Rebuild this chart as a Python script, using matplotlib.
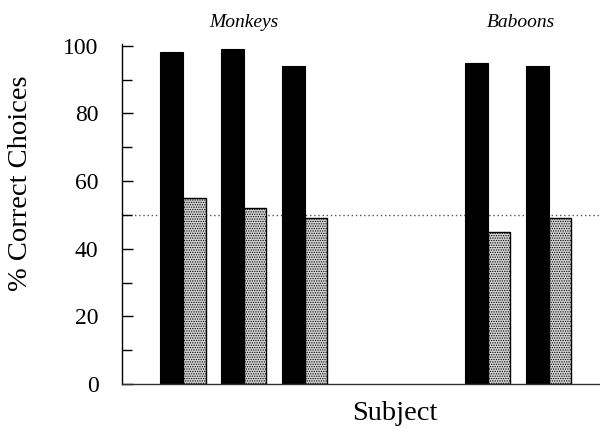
import matplotlib
matplotlib.use("Agg")
import matplotlib.pyplot as plt
import numpy as np

plt.rcParams['font.family'] = 'serif'
plt.rcParams['font.serif'] = ['Liberation Serif', 'Times New Roman', 'DejaVu Serif']
plt.rcParams['hatch.linewidth'] = 0.6

subjects = ["M1", "M2", "M3", "B1", "B2"]
positions = [0, 1, 2, 5, 6]
trained = [98, 99, 94, 95, 94]
transfer = [55, 52, 49, 45, 49]
groups = ["Monkeys", "Baboons"]
group_pos = [1.0, 5.55]
chance = 50
yticks = [0, 20, 40, 60, 80, 100]

fig = plt.figure(figsize=(6.0, 4.28), dpi=100)
ax = fig.add_axes([122/600, 44/428, 1 - 122/600, (384-44)/428])

x = np.array(positions, dtype=float)
w = 0.37
ax.bar(x - w/2, trained, width=w, color='black', edgecolor='black', linewidth=0.8)
ax.bar(x + w/2, transfer, width=w, color='#d4d4d4', edgecolor='black',
       linewidth=1.0, hatch='.......')

ax.axhline(chance, color='#555555', linestyle=(0, (1, 2)), linewidth=1.0, zorder=0.5)

ax.set_xlim(-1, 6.84)
ax.set_ylim(0, 100.5)
ax.set_yticks(yticks)
ax.set_yticks(np.arange(10, 100, 20), minor=True)
ax.tick_params(axis='y', which='major', direction='in', length=8, width=1, pad=17, labelsize=17)
ax.tick_params(axis='y', which='minor', direction='in', length=7, width=1)
ax.set_xticks([])
for s in ['top', 'right']:
    ax.spines[s].set_visible(False)
ax.spines['left'].set_linewidth(1.0)
ax.spines['bottom'].set_linewidth(1.0)
ax.spines['bottom'].set_color('#333333')

ax.set_ylabel('% Correct Choices', fontsize=20.5)
ax.yaxis.set_label_coords(-0.187, 0.59)
ax.set_xlabel('Subject', fontsize=20.5, labelpad=12)
ax.xaxis.label.set_x(0.571)

for g, gx in zip(groups, group_pos):
    ax.text(gx, 107, g, fontsize=14, fontstyle='italic', ha='center', va='center')

fig.savefig('out.png', dpi=100)
